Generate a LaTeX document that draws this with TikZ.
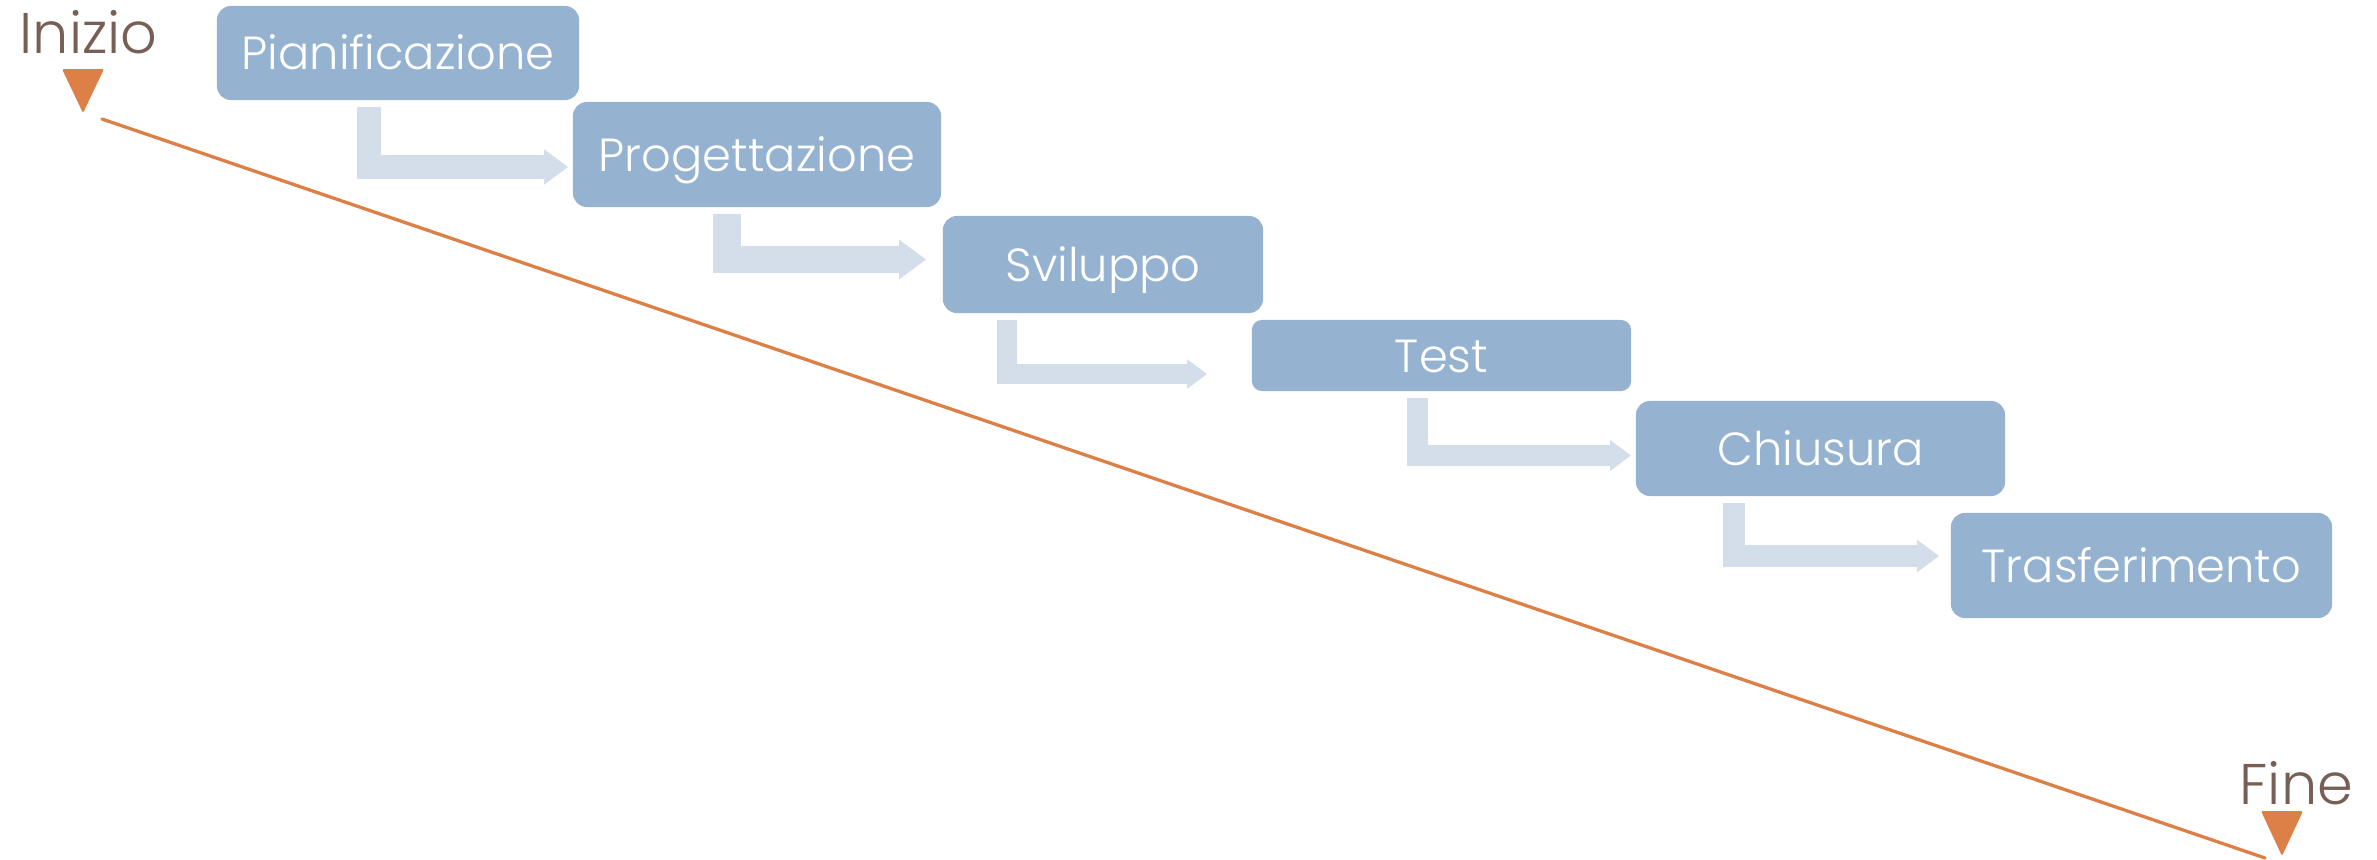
\documentclass[tikz,border=0pt]{standalone}
\usepackage{fontspec}
\setmainfont{Poppins Light}
\usetikzlibrary{arrows.meta, calc}

\definecolor{phasefill}{HTML}{95B3D1}
\definecolor{flowfill}{HTML}{D4DEEA}
\definecolor{timeline}{HTML}{DD8047}
\definecolor{labeltext}{HTML}{775F55}

\begin{document}
\begin{tikzpicture}[x=0.01cm, y=-0.01cm]
  \tikzstyle{phase}=[fill=phasefill, text=white, rounded corners=0.14cm, inner sep=0pt,
    font=\fontsize{13.2}{16}\selectfont, text height=0.33cm, text depth=0pt]
  \tikzstyle{flow}=[draw=flowfill, line join=miter, -{Triangle[length=0pt 1, width=0pt 1.4]}]
  \tikzstyle{marker}=[fill=timeline, rounded corners=0.02cm]
  \tikzstyle{endlabel}=[text=labeltext, font=\fontsize{16.3}{20}\selectfont, anchor=base west, inner sep=0pt]

  \useasboundingbox (0,0) rectangle (2377,860);

  % Phases, one step lower and further right each time
  \node[phase, minimum width=3.62cm, minimum height=0.94cm] (plan) at (398,53) {Pianificazione};
  \node[phase, minimum width=3.68cm, minimum height=1.05cm] (prog) at (757,154.5) {Progettazione};
  \node[phase, minimum width=3.20cm, minimum height=0.97cm] (svil) at (1103,264.5) {Sviluppo};
  \node[phase, minimum width=3.79cm, minimum height=0.71cm, rounded corners=0.1cm] (test) at (1441.5,355.5) {Test};
  \node[phase, minimum width=3.69cm, minimum height=0.95cm] (chiu) at (1820.5,448.5) {Chiusura};
  \node[phase, minimum width=3.81cm, minimum height=1.05cm] (tras) at (2141.5,565.5) {Trasferimento};

  % Bent arrows between the phases
  \foreach \from/\to/\kx/\ky/\gap/\w in {plan/prog/369/167/4/0.24, prog/svil/727/259.5/16/0.27,
      svil/test/1007/374/44/0.20, test/chiu/1417.5/455.5/4/0.21, chiu/tras/1733.5/556/11/0.22} {
    \coordinate (knee) at (\kx,\ky);
    \draw[flow, line width=\w cm] ($(\from.south -| knee)+(0,6)$) |- ($(\to.west |- knee)+(-\gap,0)$);
  }

  % Time line
  \node[endlabel] (inizio) at (19,53) {Inizio};
  \node[endlabel] (fine) at (2239,804) {Fine};
  \fill[marker] (62,69) -- (104,69) -- (83,113) -- cycle; % Start marker
  \fill[marker] (2261,811) -- (2303,811) -- (2282,856) -- cycle; % End marker
  \coordinate (t0) at (102,119);
  \coordinate (t1) at (2265,858);
  \draw[timeline, line width=0.033cm, line cap=round] (t0) -- (t1);
\end{tikzpicture}
\end{document}
